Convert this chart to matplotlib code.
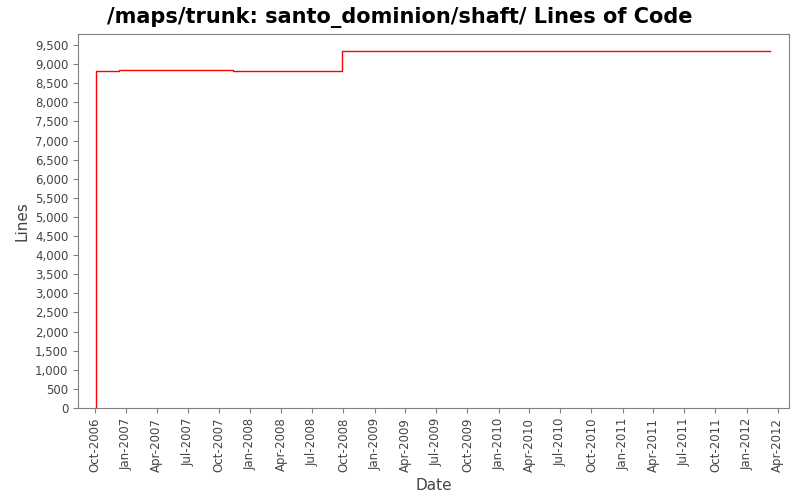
import matplotlib
matplotlib.use("Agg")
import matplotlib.pyplot as plt
import matplotlib.dates as mdates
from matplotlib.ticker import FuncFormatter, MultipleLocator
import datetime as dt

dates = ["2006-10-05", "2006-10-05", "2006-12-10", "2007-11-10", "2008-09-28", "2012-03-10"]
lines = [0, 8810, 8840, 8815, 9335, 9335]

x = [dt.datetime.strptime(d, "%Y-%m-%d") for d in dates]

fig = plt.figure(figsize=(8, 5), dpi=100)
ax = fig.add_axes([0.0975, 0.184, 0.889, 0.748])
ax.step(x, lines, where="post", color="#ff0000", lw=1)
ax.set_ylim(0, 9790)
ax.set_xlim(dt.datetime(2006, 8, 12), dt.datetime(2012, 5, 5))
ax.yaxis.set_major_locator(MultipleLocator(500))
ax.yaxis.set_major_formatter(FuncFormatter(lambda v, p: f"{int(v):,}"))
ax.xaxis.set_major_locator(mdates.MonthLocator(bymonth=[1, 4, 7, 10]))
ax.xaxis.set_major_formatter(mdates.DateFormatter("%b-%Y"))
plt.setp(ax.get_xticklabels(), rotation=90)
ax.tick_params(labelsize=8.5, color="gray", labelcolor="#444444")
for s in ax.spines.values():
    s.set_color("gray")
ax.set_xlabel("Date", fontsize=11, color="#444444")
ax.set_ylabel("Lines", fontsize=11, color="#444444")
fig.suptitle("/maps/trunk: santo_dominion/shaft/ Lines of Code", fontsize=15, fontweight="bold", y=0.985)
fig.savefig("out.png")
